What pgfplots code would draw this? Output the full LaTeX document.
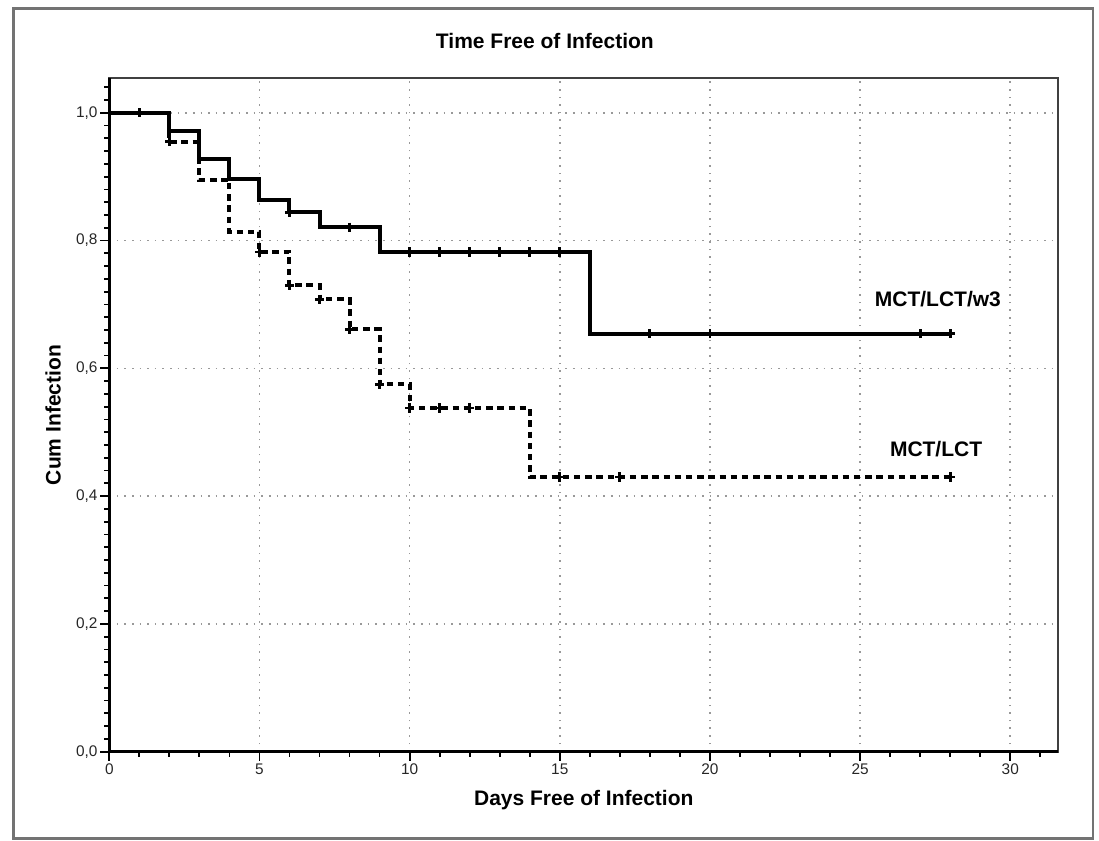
\documentclass[border=0pt]{standalone}
\usepackage{fontspec}
\setmainfont{Liberation Sans}
\usepackage{pgfplots}
\pgfplotsset{compat=1.18}
\begin{document}
\begin{tikzpicture}[x=1pt,y=1pt]
\useasboundingbox (0,0) rectangle (549.5,-420.5);
\draw[black!55, line width=1.2pt] (6.65,-4.15) rectangle (546.35,-419.2);
\begin{axis}[
  at={(54.65pt,-375.85pt)}, anchor=south west,
  scale only axis, width=474.5pt, height=336.7pt,
  xmin=0, xmax=31.6, ymin=0, ymax=1.054,
  xtick={0,5,10,15,20,25,30}, ytick={0,0.2,0.4,0.6,0.8,1},
  minor xtick={0,1,...,31},
  minor ytick={0.02,0.04,...,1.045},
  tick pos=left, tick align=outside,
  major tick length=4.5pt, minor tick length=2.5pt,
  every tick/.style={black, line width=0.9pt},
  grid=major,
  major grid style={black!40, line width=0.8pt, dash pattern=on 0.8pt off 3pt},
  axis line style={black!75, line width=1pt},
  /pgf/number format/assume math mode=true,
  tick label style={font=\fontsize{7.7}{9}\selectfont, text=black!85, inner sep=1.2pt},
  yticklabel style={/pgf/number format/.cd, fixed, fixed zerofill, precision=1, use comma},
  xticklabel style={/pgf/number format/.cd, fixed, precision=0},
  title={Time Free of Infection},
  title style={at={(axis description cs:0.459,1.0376)}, anchor=center, font=\bfseries\fontsize{10.5}{12}\selectfont},
  xlabel={Days Free of Infection},
  xlabel style={at={(axis description cs:0.5,-0.0717)}, anchor=center, font=\bfseries\fontsize{10.5}{12}\selectfont},
  ylabel={Cum Infection},
  ylabel style={at={(axis description cs:-0.0593,0.5)}, anchor=center, font=\bfseries\fontsize{10.5}{12}\selectfont},
  clip=false,
]
% MCT/LCT/w3 (solid)
\addplot[const plot, black, line width=2pt] coordinates {
  (0,1) (2,0.972) (3,0.927) (4,0.896) (5,0.863) (6,0.844) (7,0.821) (9,0.782) (16,0.654) (28,0.654)
};
\addplot[only marks, mark=+, mark size=2.3pt, black, line width=1.4pt] coordinates {
  (1,1) (6,0.844) (8,0.821) (10,0.782) (11,0.782) (12,0.782) (13,0.782) (14,0.782) (15,0.782)
  (18,0.654) (20,0.654) (27,0.654) (28,0.654)
};
% MCT/LCT (dashed)
\addplot[const plot, black, line width=2pt, dash pattern=on 3.2pt off 2.4pt] coordinates {
  (0,1) (2,0.955) (3,0.895) (4,0.814) (5,0.782) (6,0.730) (7,0.708) (8,0.661) (9,0.575) (10,0.538) (14,0.430) (28,0.430)
};
\addplot[only marks, mark=+, mark size=2.3pt, black, line width=1.4pt] coordinates {
  (2,0.955) (5,0.782) (6,0.730) (7,0.708) (8,0.661) (9,0.575) (10,0.538) (11,0.538) (12,0.538)
  (15,0.430) (17,0.430) (28,0.430)
};
\draw[black, line width=1.5pt] (rel axis cs:0,1) -- (rel axis cs:0,0) -- (rel axis cs:1,0);
\node[font=\bfseries\fontsize{10.5}{12}\selectfont] at (axis cs:27.59,0.709) {MCT/LCT/w3};
\node[font=\bfseries\fontsize{10.5}{12}\selectfont] at (axis cs:27.53,0.474) {MCT/LCT};
\end{axis}
\end{tikzpicture}
\end{document}
